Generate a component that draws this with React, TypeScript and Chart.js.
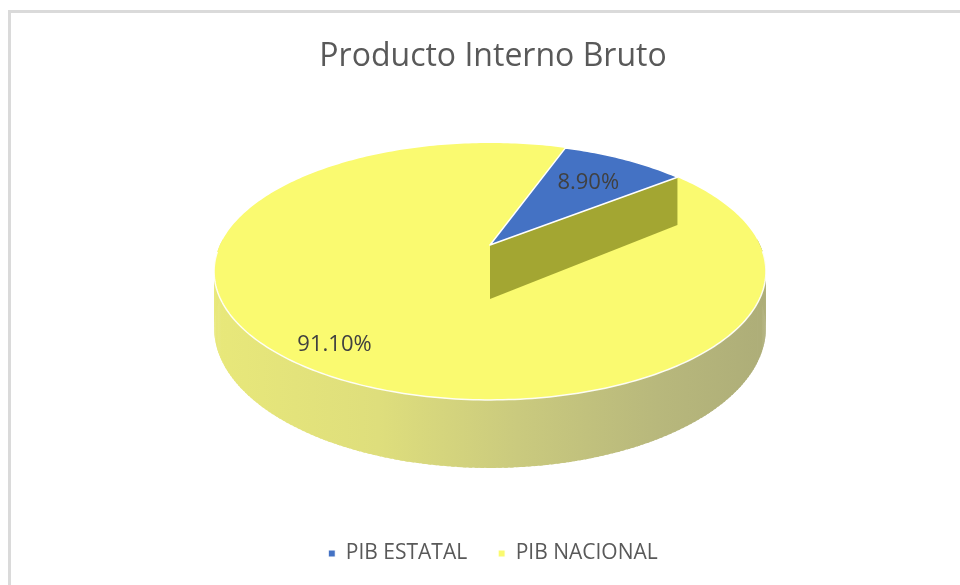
import React, { useEffect, useRef } from "react";
import { Chart, registerables } from "chart.js";

Chart.register(...registerables);

// ---- data ----
const categories = ["PIB ESTATAL", "PIB NACIONAL"];
const values = [8.9, 91.1];
const titleText = "Producto Interno Bruto";

// ---- styles ----
const topColors = ["#4472C4", "#FAFA70"];
const cutFaceColor = "#A3A632";
const sideStops: [number, string][] = [
  [0, "#E8E87A"],
  [0.3, "#DEDE7C"],
  [0.55, "#CACA7E"],
  [0.8, "#B8B87C"],
  [1, "#ADAD78"],
];
const labelFrac = [0.7, 0.85];

// 3D projection parameters (layout)
const CX = 490;
const CY = 245;
const RX = 270;
const RY = 123;
const P = 0.206;
const D = 54;
const STEP = Math.PI / 180;

function proj(theta: number, f: number, z: number): [number, number] {
  const u = Math.cos(theta) * f;
  const v = Math.sin(theta) * f;
  const k = 1 / (1 - P * v);
  return [CX + RX * u * k, CY + (RY * v + D * z) * k];
}

function topPath(ctx: CanvasRenderingContext2D, a: number, b: number) {
  ctx.beginPath();
  const c = proj(0, 0, 0);
  ctx.moveTo(c[0], c[1]);
  const n = Math.max(2, Math.ceil((b - a) / STEP));
  for (let i = 0; i <= n; i++) {
    const t = a + ((b - a) * i) / n;
    const p = proj(t, 1, 0);
    ctx.lineTo(p[0], p[1]);
  }
  ctx.closePath();
}

const pie3d = {
  id: "pie3d",
  beforeDatasetsDraw(chart: any) {
    const ctx: CanvasRenderingContext2D = chart.ctx;
    const meta = chart.getDatasetMeta(0);
    const arcs = meta.data.map((el: any) =>
      el.getProps(["startAngle", "endAngle"], true)
    );
    ctx.save();

    // side walls (front)
    const grad = ctx.createLinearGradient(CX - RX - 8, 0, CX + RX + 8, 0);
    sideStops.forEach(([o, c]) => grad.addColorStop(o, c));
    const lo = -0.05;
    const hi = Math.PI + 0.05;
    arcs.forEach((arc: any) => {
      const a = Math.max(arc.startAngle, lo);
      const b = Math.min(arc.endAngle, hi);
      if (b <= a) return;
      const n = Math.ceil((b - a) / STEP);
      ctx.fillStyle = grad;
      for (let i = 0; i < n; i++) {
        const t1 = a + ((b - a) * i) / n;
        const t2 = Math.min(b, a + ((b - a) * (i + 1.6)) / n);
        const p1 = proj(t1, 1, 0);
        const p2 = proj(t2, 1, 0);
        const p3 = proj(t2, 1, 1);
        const p4 = proj(t1, 1, 1);
        ctx.beginPath();
        ctx.moveTo(p1[0], p1[1]);
        ctx.lineTo(p2[0], p2[1]);
        ctx.lineTo(p3[0], p3[1]);
        ctx.lineTo(p4[0], p4[1]);
        ctx.closePath();
        ctx.fill();
      }
    });

    // top faces of the large slices
    arcs.forEach((arc: any, i: number) => {
      if (i === 0) return;
      topPath(ctx, arc.startAngle, arc.endAngle);
      ctx.fillStyle = topColors[i];
      ctx.fill();
    });

    // rim highlight
    ctx.beginPath();
    let first = true;
    for (let t = 0.05; t <= Math.PI - 0.05; t += STEP) {
      const p = proj(t, 1, 0);
      if (first) {
        ctx.moveTo(p[0], p[1]);
        first = false;
      } else ctx.lineTo(p[0], p[1]);
    }
    ctx.strokeStyle = "rgba(255,255,255,0.9)";
    ctx.lineWidth = 1.5;
    ctx.stroke();

    // cut face below the small slice
    const s = arcs[0];
    const c0 = proj(0, 0, 0);
    const c1 = proj(0, 0, 1);
    const e0 = proj(s.endAngle, 1, 0);
    const e1 = proj(s.endAngle, 1, 1);
    ctx.beginPath();
    ctx.moveTo(c0[0], c0[1]);
    ctx.lineTo(e0[0], e0[1]);
    ctx.lineTo(e1[0], e1[1]);
    ctx.lineTo(c1[0], c1[1]);
    ctx.closePath();
    ctx.fillStyle = cutFaceColor;
    ctx.fill();

    // small slice top
    topPath(ctx, s.startAngle, s.endAngle);
    ctx.fillStyle = topColors[0];
    ctx.fill();
    ctx.strokeStyle = "#FFFFFF";
    ctx.lineWidth = 1.5;
    ctx.lineJoin = "round";
    ctx.stroke();

    // data labels
    ctx.fillStyle = "#404040";
    ctx.font = "22px 'Open Sans'";
    ctx.textAlign = "center";
    ctx.textBaseline = "middle";
    arcs.forEach((arc: any, i: number) => {
      const mid = (arc.startAngle + arc.endAngle) / 2;
      const p = proj(mid, labelFrac[i], 0);
      ctx.fillText(values[i].toFixed(2) + "%", p[0], p[1]);
    });

    ctx.restore();
    return false;
  },
};

export default function App() {
  const ref = useRef<HTMLCanvasElement | null>(null);
  useEffect(() => {
    if (!ref.current) return;
    const chart = new Chart(ref.current, {
      type: "pie",
      data: {
        labels: categories,
        datasets: [
          {
            data: values,
            backgroundColor: topColors,
            borderColor: "#FFFFFF",
            borderWidth: 1,
          },
        ],
      },
      options: {
        animation: false,
        responsive: false,
        events: [],
        rotation: 19.5,
        layout: { padding: { left: 26, right: 0, top: 0, bottom: 11 } },
        plugins: {
          title: {
            display: true,
            text: titleText,
            color: "#595959",
            font: { size: 32, family: "'Open Sans'", weight: "normal" },
            padding: { top: 38, bottom: 10 },
          },
          legend: {
            position: "bottom",
            labels: {
              usePointStyle: true,
              pointStyle: "rect",
              boxWidth: 7,
              boxHeight: 7,
              color: "#595959",
              font: { size: 21, family: "'Open Sans'" },
              padding: 31,
            },
          },
          tooltip: { enabled: false },
        },
      },
      plugins: [pie3d],
    } as any);
    return () => chart.destroy();
  }, []);
  return (
    <div
      style={{
        position: "fixed",
        left: 0,
        top: 0,
        width: 960,
        height: 585,
        background: "#FFFFFF",
        overflow: "hidden",
      }}
    >
      <div
        style={{
          position: "absolute",
          left: 8,
          top: 10,
          width: 1100,
          height: 1100,
          borderTop: "3px solid #DADADA",
          borderLeft: "3px solid #DADADA",
        }}
      />
      <canvas
        ref={ref}
        width={960}
        height={585}
        style={{ position: "absolute", left: 0, top: 0 }}
      />
    </div>
  );
}
